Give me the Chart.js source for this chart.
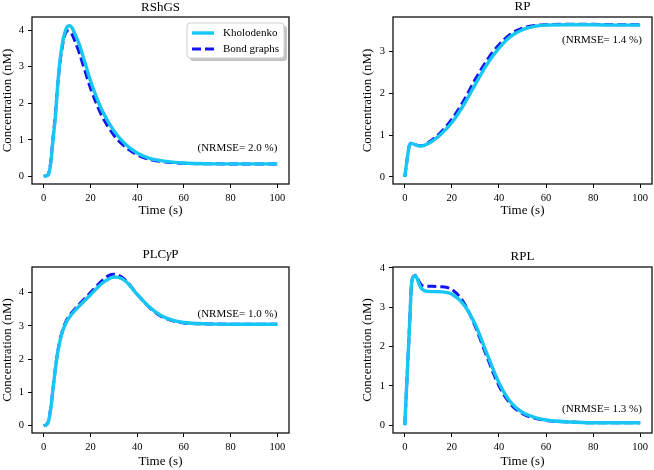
<!DOCTYPE html>
<html><head><meta charset="utf-8">
<script src="https://cdn.jsdelivr.net/npm/chart.js@4.4.1/dist/chart.umd.min.js"></script>
<style>
html,body{margin:0;padding:0;background:#fff;width:654px;height:470px;overflow:hidden;}
.p{position:absolute;}
</style></head><body>
<div class="p" style="left:0;top:0"><canvas id="c1" width="300" height="235"></canvas></div>
<div class="p" style="left:360px;top:0"><canvas id="c2" width="294" height="235"></canvas></div>
<div class="p" style="left:0;top:235px"><canvas id="c3" width="300" height="235"></canvas></div>
<div class="p" style="left:360px;top:235px"><canvas id="c4" width="294" height="235"></canvas></div>
<script>
// ---------- data ----------
const seriesNames = ['Kholodenko', 'Bond graphs'];
const xTicks = [0, 20, 40, 60, 80, 100];

const tRShGS = [0,1,2,2.5,3,4,5,6,7,8,9,10,11,12,13,15,17.5,20,22.5,25,30,35,40,45,50,55,60,70,80,90,100];
const rshgsKholodenko = [0,0.01,0.05,0.15,0.35,1.0,1.62,2.5,3.17,3.63,3.92,4.09,4.12,4.08,3.95,3.65,3.15,2.62,2.18,1.8,1.25,0.88,0.64,0.5,0.43,0.39,0.365,0.345,0.34,0.34,0.34];
const rshgsBond       = [0,0.01,0.06,0.18,0.38,1.05,1.7,2.5,3.12,3.56,3.85,3.98,3.97,3.9,3.76,3.42,2.92,2.42,2.0,1.64,1.13,0.8,0.59,0.47,0.41,0.375,0.355,0.345,0.34,0.34,0.34];
const yTicksRShGS = [0,1,2,3,4];

const tRP = [0,1,2,3,4,5,6,7,8,10,12,15,20,25,30,35,40,45,50,55,60,70,80,90,100];
const rpKholodenko = [0,0.42,0.76,0.8,0.78,0.76,0.74,0.74,0.75,0.8,0.87,1.0,1.3,1.72,2.22,2.7,3.08,3.36,3.52,3.6,3.63,3.64,3.64,3.63,3.63];
const rpBond       = [0,0.42,0.76,0.81,0.79,0.76,0.75,0.75,0.76,0.82,0.9,1.05,1.38,1.82,2.34,2.8,3.16,3.42,3.56,3.62,3.64,3.65,3.65,3.64,3.64];
const yTicksRP = [0,1,2,3];

const tPLC = [0,1,2,3,4,5,6,7,8,10,12,15,20,25,28,30,32,35,40,45,50,55,60,70,80,90,100];
const plcKholodenko = [0,0.02,0.12,0.5,1.1,1.7,2.2,2.55,2.82,3.15,3.35,3.58,3.93,4.28,4.42,4.47,4.46,4.35,3.95,3.58,3.32,3.17,3.1,3.06,3.05,3.05,3.05];
const plcBond       = [0,0.02,0.13,0.52,1.12,1.72,2.22,2.58,2.85,3.2,3.4,3.63,4.0,4.36,4.52,4.55,4.52,4.38,3.95,3.57,3.3,3.16,3.09,3.06,3.05,3.05,3.05];
const yTicksPLC = [0,1,2,3,4];

const tRPL = [0,1,2,3,4,4.5,5,6,7,8,10,15,20,25,30,35,40,45,50,55,60,70,80,90,100];
const rplKholodenko = [0,1.25,2.5,3.66,3.78,3.8,3.76,3.6,3.48,3.43,3.4,3.39,3.33,3.07,2.55,1.8,1.08,0.58,0.32,0.2,0.13,0.08,0.06,0.06,0.06];
const rplBond       = [0,1.25,2.5,3.66,3.79,3.81,3.78,3.66,3.57,3.54,3.53,3.52,3.45,3.12,2.5,1.72,1.0,0.53,0.29,0.18,0.12,0.08,0.06,0.06,0.06];
const yTicksRPL = [0,1,2,3,4];

const nrmse = ['(NRMSE= 2.0 %)', '(NRMSE= 1.4 %)', '(NRMSE= 1.0 %)', '(NRMSE= 1.3 %)'];

// ---------- styling ----------
const SERIF = '"Liberation Serif", "Times New Roman", serif';
const cyan = '#17c6f4';
const blue = '#1414ee';

function pts(t, v) { return t.map((x, i) => ({x: x, y: v[i]})); }

const decorPlugin = {
  id: 'decor',
  afterDraw(chart, args, o) {
    const ctx = chart.ctx, a = chart.chartArea;
    ctx.save();
    ctx.strokeStyle = '#111'; ctx.lineWidth = 1.3;
    ctx.strokeRect(a.left, a.top, a.right - a.left, a.bottom - a.top);
    // title (parts, some italic)
    ctx.fillStyle = '#000'; ctx.textBaseline = 'middle'; ctx.textAlign = 'left';
    let total = 0;
    o.title.forEach(p => { ctx.font = (p.i ? 'italic ' : '') + '13px ' + SERIF; total += ctx.measureText(p.t).width; });
    let x = (a.left + a.right) / 2 - total / 2;
    o.title.forEach(p => { ctx.font = (p.i ? 'italic ' : '') + '13px ' + SERIF; ctx.fillText(p.t, x, a.top - o.titleGap); x += ctx.measureText(p.t).width; });
    // annotation
    const xs = chart.scales.x, ys = chart.scales.y;
    ctx.font = '11px ' + SERIF; ctx.textAlign = 'right';
    ctx.fillText(o.note, xs.getPixelForValue(o.noteX), ys.getPixelForValue(o.noteY));
    // legend
    if (o.legend) {
      const bl = a.right - 102, bt = a.top + 6, bw = 97, bh = 35;
      ctx.fillStyle = '#c4c4c4';
      ctx.beginPath(); ctx.roundRect(bl + 3, bt + 3, bw, bh, 3); ctx.fill();
      ctx.fillStyle = '#fff'; ctx.strokeStyle = '#cfcfcf'; ctx.lineWidth = 1;
      ctx.beginPath(); ctx.roundRect(bl, bt, bw, bh, 3); ctx.fill(); ctx.stroke();
      chart.data.datasets.forEach((ds, i) => {
        const yy = bt + 10 + i * 16;
        ctx.strokeStyle = ds.borderColor; ctx.lineWidth = ds.borderWidth;
        ctx.setLineDash(ds.borderDash || []);
        ctx.beginPath(); ctx.moveTo(bl + 5, yy); ctx.lineTo(bl + 27, yy); ctx.stroke();
        ctx.setLineDash([]);
        ctx.fillStyle = '#000'; ctx.textAlign = 'left'; ctx.font = '11px ' + SERIF;
        ctx.fillText(ds.label, bl + 36, yy);
      });
    }
    ctx.restore();
  }
};

function makeChart(id, spec) {
  return new Chart(document.getElementById(id), {
    type: 'line',
    data: {
      datasets: [
        {label: seriesNames[0], data: pts(spec.t, spec.k), borderColor: cyan, borderWidth: 3.4, pointRadius: 0, cubicInterpolationMode: 'monotone', fill: false},
        {label: seriesNames[1], data: pts(spec.t, spec.b), borderColor: blue, borderWidth: 3, borderDash: [9, 4], pointRadius: 0, cubicInterpolationMode: 'monotone', fill: false}
      ]
    },
    options: {
      responsive: false, animation: false, events: [],
      layout: {padding: {top: spec.padTop, right: spec.padRight, left: 0, bottom: 0}},
      plugins: {
        legend: {display: false}, tooltip: {enabled: false},
        decor: {title: spec.title, titleGap: spec.titleGap, note: spec.note, noteX: spec.noteX, noteY: spec.noteY, legend: spec.legend}
      },
      scales: {
        x: {
          type: 'linear', min: -5, max: 105,
          afterBuildTicks: s => { s.ticks = xTicks.map(v => ({value: v})); },
          afterFit: s => { s.height = spec.xh; },
          grid: {drawOnChartArea: false, drawTicks: true, tickLength: 4, tickColor: '#000', lineWidth: 1},
          border: {display: false},
          ticks: {color: '#000', font: {family: SERIF, size: 10.5}, padding: 4, maxRotation: 0},
          title: {display: true, text: 'Time (s)', color: '#000', font: {family: SERIF, size: 13}, padding: {top: 0, bottom: spec.xtPad}}
        },
        y: {
          type: 'linear', min: spec.ymin, max: spec.ymax,
          afterBuildTicks: s => { s.ticks = spec.yt.map(v => ({value: v})); },
          afterFit: s => { s.width = spec.yw; },
          grid: {drawOnChartArea: false, drawTicks: true, tickLength: 4, tickColor: '#000', lineWidth: 1},
          border: {display: false},
          ticks: {color: '#000', font: {family: SERIF, size: 10.5}, padding: 4},
          title: {display: true, text: 'Concentration (nM)', color: '#000', font: {family: SERIF, size: 13}, padding: {top: 0, bottom: 0}}
        }
      }
    },
    plugins: [decorPlugin]
  });
}

makeChart('c1', {t: tRShGS, k: rshgsKholodenko, b: rshgsBond, yt: yTicksRShGS, ymin: -0.21, ymax: 4.36,
  title: [{t: 'RShGS'}], titleGap: 9.5, note: nrmse[0], noteX: 100, noteY: 0.77, legend: true,
  padTop: 17, padRight: 11, xh: 51, xtPad: 16.5, yw: 32});
makeChart('c2', {t: tRP, k: rpKholodenko, b: rpBond, yt: yTicksRP, ymin: -0.17, ymax: 3.825,
  title: [{t: 'RP'}], titleGap: 10, note: nrmse[1], noteX: 100.7, noteY: 3.28, legend: false,
  padTop: 17, padRight: 2, xh: 51, xtPad: 16.5, yw: 33});
makeChart('c3', {t: tPLC, k: plcKholodenko, b: plcBond, yt: yTicksPLC, ymin: -0.22, ymax: 4.77,
  title: [{t: 'PLC'}, {t: 'γ', i: true}, {t: 'P'}], titleGap: 12, note: nrmse[2], noteX: 100, noteY: 3.35, legend: false,
  padTop: 32, padRight: 11, xh: 37, xtPad: 0.5, yw: 32});
makeChart('c4', {t: tRPL, k: rplKholodenko, b: rplBond, yt: yTicksRPL, ymin: -0.2, ymax: 4.02,
  title: [{t: 'RPL'}], titleGap: 10.5, note: nrmse[3], noteX: 100.7, noteY: 0.42, legend: false,
  padTop: 32, padRight: 2, xh: 37, xtPad: 0.5, yw: 33});
</script>
</body></html>
